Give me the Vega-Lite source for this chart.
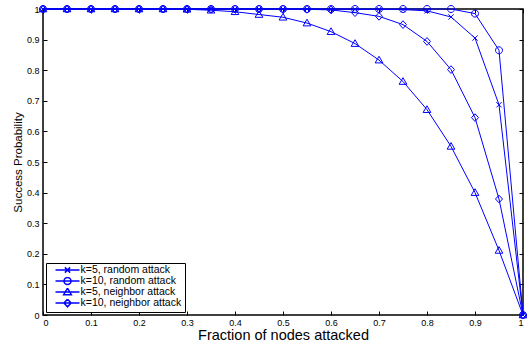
{
  "$schema": "https://vega.github.io/schema/vega-lite/v6.json",
  "autosize": "none",
  "width": 480,
  "height": 306,
  "padding": {"left": 43, "top": 9, "right": 4, "bottom": 30},
  "background": "white",
  "config": {
    "font": "Liberation Sans",
    "view": {"stroke": "black", "strokeWidth": 1.5},
    "axis": {
      "grid": false,
      "domain": false,
      "ticks": true,
      "tickColor": "black",
      "tickSize": -4,
      "tickWidth": 1,
      "labelFont": "Liberation Sans",
      "labelFontSize": 9,
      "labelColor": "black",
      "titleFont": "Liberation Sans",
      "titleFontWeight": "normal",
      "titleColor": "black"
    }
  },
  "data": {
    "values": [
      {"s": "k=5, random attack", "x": 0, "y": 1},
      {"s": "k=5, random attack", "x": 0.05, "y": 1},
      {"s": "k=5, random attack", "x": 0.1, "y": 1},
      {"s": "k=5, random attack", "x": 0.15, "y": 1},
      {"s": "k=5, random attack", "x": 0.2, "y": 1},
      {"s": "k=5, random attack", "x": 0.25, "y": 1},
      {"s": "k=5, random attack", "x": 0.3, "y": 1},
      {"s": "k=5, random attack", "x": 0.35, "y": 1},
      {"s": "k=5, random attack", "x": 0.4, "y": 1},
      {"s": "k=5, random attack", "x": 0.45, "y": 1},
      {"s": "k=5, random attack", "x": 0.5, "y": 1},
      {"s": "k=5, random attack", "x": 0.55, "y": 1},
      {"s": "k=5, random attack", "x": 0.6, "y": 1},
      {"s": "k=5, random attack", "x": 0.65, "y": 0.999},
      {"s": "k=5, random attack", "x": 0.7, "y": 0.999},
      {"s": "k=5, random attack", "x": 0.75, "y": 0.998},
      {"s": "k=5, random attack", "x": 0.8, "y": 0.994},
      {"s": "k=5, random attack", "x": 0.85, "y": 0.974},
      {"s": "k=5, random attack", "x": 0.9, "y": 0.905},
      {"s": "k=5, random attack", "x": 0.95, "y": 0.687},
      {"s": "k=5, random attack", "x": 1, "y": 0},
      {"s": "k=10, random attack", "x": 0, "y": 1},
      {"s": "k=10, random attack", "x": 0.05, "y": 1},
      {"s": "k=10, random attack", "x": 0.1, "y": 1},
      {"s": "k=10, random attack", "x": 0.15, "y": 1},
      {"s": "k=10, random attack", "x": 0.2, "y": 1},
      {"s": "k=10, random attack", "x": 0.25, "y": 1},
      {"s": "k=10, random attack", "x": 0.3, "y": 1},
      {"s": "k=10, random attack", "x": 0.35, "y": 1},
      {"s": "k=10, random attack", "x": 0.4, "y": 1},
      {"s": "k=10, random attack", "x": 0.45, "y": 1},
      {"s": "k=10, random attack", "x": 0.5, "y": 1},
      {"s": "k=10, random attack", "x": 0.55, "y": 1},
      {"s": "k=10, random attack", "x": 0.6, "y": 1},
      {"s": "k=10, random attack", "x": 0.65, "y": 1},
      {"s": "k=10, random attack", "x": 0.7, "y": 1},
      {"s": "k=10, random attack", "x": 0.75, "y": 1},
      {"s": "k=10, random attack", "x": 0.8, "y": 1},
      {"s": "k=10, random attack", "x": 0.85, "y": 1},
      {"s": "k=10, random attack", "x": 0.9, "y": 0.985},
      {"s": "k=10, random attack", "x": 0.95, "y": 0.865},
      {"s": "k=10, random attack", "x": 1, "y": 0},
      {"s": "k=5, neighbor attack", "x": 0, "y": 1},
      {"s": "k=5, neighbor attack", "x": 0.05, "y": 1},
      {"s": "k=5, neighbor attack", "x": 0.1, "y": 1},
      {"s": "k=5, neighbor attack", "x": 0.15, "y": 1},
      {"s": "k=5, neighbor attack", "x": 0.2, "y": 1},
      {"s": "k=5, neighbor attack", "x": 0.25, "y": 1},
      {"s": "k=5, neighbor attack", "x": 0.3, "y": 0.999},
      {"s": "k=5, neighbor attack", "x": 0.35, "y": 0.996},
      {"s": "k=5, neighbor attack", "x": 0.4, "y": 0.991},
      {"s": "k=5, neighbor attack", "x": 0.45, "y": 0.982},
      {"s": "k=5, neighbor attack", "x": 0.5, "y": 0.973},
      {"s": "k=5, neighbor attack", "x": 0.55, "y": 0.954},
      {"s": "k=5, neighbor attack", "x": 0.6, "y": 0.926},
      {"s": "k=5, neighbor attack", "x": 0.65, "y": 0.887},
      {"s": "k=5, neighbor attack", "x": 0.7, "y": 0.833},
      {"s": "k=5, neighbor attack", "x": 0.75, "y": 0.763},
      {"s": "k=5, neighbor attack", "x": 0.8, "y": 0.671},
      {"s": "k=5, neighbor attack", "x": 0.85, "y": 0.551},
      {"s": "k=5, neighbor attack", "x": 0.9, "y": 0.400},
      {"s": "k=5, neighbor attack", "x": 0.95, "y": 0.211},
      {"s": "k=5, neighbor attack", "x": 1, "y": 0},
      {"s": "k=10, neighbor attack", "x": 0, "y": 1},
      {"s": "k=10, neighbor attack", "x": 0.05, "y": 1},
      {"s": "k=10, neighbor attack", "x": 0.1, "y": 1},
      {"s": "k=10, neighbor attack", "x": 0.15, "y": 1},
      {"s": "k=10, neighbor attack", "x": 0.2, "y": 1},
      {"s": "k=10, neighbor attack", "x": 0.25, "y": 1},
      {"s": "k=10, neighbor attack", "x": 0.3, "y": 1},
      {"s": "k=10, neighbor attack", "x": 0.35, "y": 1},
      {"s": "k=10, neighbor attack", "x": 0.4, "y": 1},
      {"s": "k=10, neighbor attack", "x": 0.45, "y": 1},
      {"s": "k=10, neighbor attack", "x": 0.5, "y": 1},
      {"s": "k=10, neighbor attack", "x": 0.55, "y": 0.999},
      {"s": "k=10, neighbor attack", "x": 0.6, "y": 0.997},
      {"s": "k=10, neighbor attack", "x": 0.65, "y": 0.988},
      {"s": "k=10, neighbor attack", "x": 0.7, "y": 0.976},
      {"s": "k=10, neighbor attack", "x": 0.75, "y": 0.949},
      {"s": "k=10, neighbor attack", "x": 0.8, "y": 0.894},
      {"s": "k=10, neighbor attack", "x": 0.85, "y": 0.802},
      {"s": "k=10, neighbor attack", "x": 0.9, "y": 0.645},
      {"s": "k=10, neighbor attack", "x": 0.95, "y": 0.379},
      {"s": "k=10, neighbor attack", "x": 1, "y": 0}
    ]
  },
  "layer": [
    {
      "mark": {"type": "line", "color": "#0000ff", "strokeWidth": 1},
      "encoding": {
        "x": {"field": "x", "type": "quantitative", "scale": {"domain": [0, 1], "nice": false},
              "axis": {"orient": "bottom", "values": [0,0.1,0.2,0.3,0.4,0.5,0.6,0.7,0.8,0.9,1], "format": "~g", "labelPadding": 7, "title": "Fraction of nodes attacked", "titleFontSize": 14.5, "titlePadding": 1}},
        "y": {"field": "y", "type": "quantitative", "scale": {"domain": [0, 1], "nice": false},
              "axis": {"orient": "left", "values": [0,0.1,0.2,0.3,0.4,0.5,0.6,0.7,0.8,0.9,1], "format": "~g", "labelPadding": 8, "title": "Success Probability", "titleFontSize": 11.5, "titlePadding": 3}},
        "detail": {"field": "s", "type": "nominal"}
      }
    },
    {
      "mark": {"type": "point", "filled": false, "stroke": "#0000ff", "strokeWidth": 1, "size": 49, "opacity": 1},
      "encoding": {
        "x": {"field": "x", "type": "quantitative",
              "axis": {"orient": "top", "values": [0,0.1,0.2,0.3,0.4,0.5,0.6,0.7,0.8,0.9,1], "labels": false, "title": null}},
        "y": {"field": "y", "type": "quantitative",
              "axis": {"orient": "right", "values": [0,0.1,0.2,0.3,0.4,0.5,0.6,0.7,0.8,0.9,1], "labels": false, "title": null}},
        "shape": {
          "field": "s", "type": "nominal",
          "scale": {
            "domain": ["k=5, random attack", "k=10, random attack", "k=5, neighbor attack", "k=10, neighbor attack"],
            "range": ["M-0.75,-0.75L0.75,0.75M-0.75,0.75L0.75,-0.75", "M1,0A1,1 0 1,1 -1,0A1,1 0 1,1 1,0Z", "M0,-1.1L1.1,0.8L-1.1,0.8Z", "M0,-1.1L1,0L0,1.1L-1,0Z"]
          },
          "legend": null
        }
      }
    },
    {
      "mark": {"type": "point", "filled": false, "stroke": "#0000ff", "strokeWidth": 1, "size": 30, "opacity": 0},
      "encoding": {
        "x": {"field": "x", "type": "quantitative", "axis": null},
        "y": {"field": "y", "type": "quantitative", "axis": null},
        "shape": {
          "field": "s", "type": "nominal",
          "scale": {
            "domain": ["k=5, random attack", "k=10, random attack", "k=5, neighbor attack", "k=10, neighbor attack"],
            "range": [
              "M0.46,0H9.22M3.88,-0.96L5.8,0.96M3.88,0.96L5.8,-0.96",
              "M0.46,0H9.22M6.12,0A1.28,1.28 0 1,1 3.56,0A1.28,1.28 0 1,1 6.12,0Z",
              "M0.46,0H9.22M4.84,-1.4L6.24,1L3.44,1Z",
              "M0.46,0H9.22M4.84,-1.4L6.12,0L4.84,1.4L3.56,0Z"
            ]
          },
          "legend": {
            "title": null,
            "orient": "bottom-left",
            "offset": 3,
            "padding": 3,
            "strokeColor": "black",
            "fillColor": "white",
            "labelFont": "Liberation Sans",
            "labelFontSize": 10.5,
            "labelColor": "black",
            "symbolSize": 30,
            "labelOffset": 21,
            "rowPadding": 0,
            "clipHeight": 8,
            "encode": {
              "symbols": {
                "stroke": {"value": "#0000ff"},
                "fill": {"value": "transparent"},
                "strokeWidth": {"value": 1},
                "opacity": {"value": 1}
              }
            }
          }
        }
      }
    }
  ],
  "resolve": {"axis": {"x": "independent", "y": "independent"}, "scale": {"shape": "independent"}}
}
